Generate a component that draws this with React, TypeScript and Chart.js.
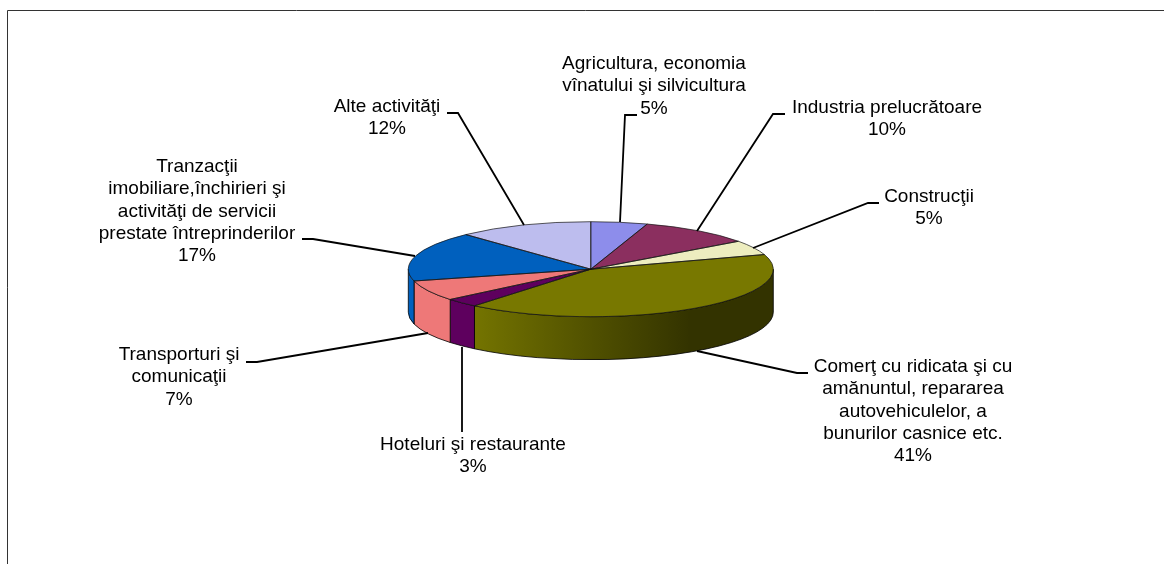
import React, { useEffect, useRef } from "react";
import { Chart, registerables } from "chart.js";

Chart.register(...registerables);

const sectors: string[][] = [
  ["Agricultura, economia", "vînatului şi silvicultura"],
  ["Industria prelucrătoare"],
  ["Construcţii"],
  ["Comerţ cu ridicata şi cu", "amănuntul, repararea", "autovehiculelor, a", "bunurilor casnice etc."],
  ["Hoteluri şi restaurante"],
  ["Transporturi şi", "comunicaţii"],
  ["Tranzacţii", "imobiliare,închirieri şi", "activităţi de servicii", "prestate întreprinderilor"],
  ["Alte activităţi"],
];
const shares = [5, 10, 5, 41, 3, 7, 17, 12];
const topColors = ["#8D8DEB", "#8B2F5F", "#EDEDBF", "#787800", "#5E005E", "#EE7878", "#0060BE", "#BDBDEE"];
const sideColors = ["#6F6FBB", "#6E254B", "#BCBC97", "#787800", "#5E005E", "#EE7878", "#0060BE", "#9696BC"];

// label layout: text centre, first-line centre, leader polyline (separate from the data)
const labelX = [654, 887, 929, 913, 473, 179, 197, 387];
const labelY = [64, 108, 197, 367, 445, 355, 167, 107];
const leaders: number[][][] = [
  [[620, 222], [625, 115], [637, 115]],
  [[697, 231], [773, 114], [785, 114]],
  [[753, 248], [868, 203], [879, 203]],
  [[697, 351], [797, 373], [808, 373]],
  [[462, 347], [462, 432]],
  [[428, 333], [257, 362], [246, 362]],
  [[415, 256], [313, 239], [302, 239]],
  [[524, 225], [458, 113], [447, 113]],
];

const TILT = 47.5 / 182.5;
const DEPTH = 43;
const LINE = 22.2;

const pie3d = {
  id: "pie3d",
  beforeDatasetsDraw(chart: any) {
    const ctx = chart.ctx;
    const arcs = chart.getDatasetMeta(0).data;
    const { x: cx, y: cy, outerRadius: rx } = arcs[0];
    const ry = rx * TILT;
    // extruded rim, front half only
    arcs.forEach((arc: any, i: number) => {
      const a = Math.max(arc.startAngle, 0);
      const b = Math.min(arc.endAngle, Math.PI);
      if (b <= a) return;
      const path = new Path2D();
      path.ellipse(cx, cy, rx, ry, 0, a, b);
      path.ellipse(cx, cy + DEPTH, rx, ry, 0, b, a, true);
      path.closePath();
      let fill: any = sideColors[i];
      if (i === 3) {
        const g = ctx.createLinearGradient(cx + rx * Math.cos(b), 0, cx + rx, 0);
        g.addColorStop(0, "#747400");
        g.addColorStop(0.72, "#333300");
        g.addColorStop(1, "#333300");
        fill = g;
      }
      ctx.save();
      ctx.fillStyle = fill;
      ctx.fill(path);
      ctx.strokeStyle = "rgba(0,0,0,0.8)";
      ctx.lineWidth = 1;
      ctx.stroke(path);
      ctx.restore();
    });
    // flatten the library's own arcs into the tilted ellipse
    ctx.save();
    ctx.translate(cx, cy);
    ctx.scale(1, TILT);
    ctx.translate(-cx, -cy);
  },
  afterDatasetsDraw(chart: any) {
    const ctx = chart.ctx;
    ctx.restore();
    const arcs = chart.getDatasetMeta(0).data;
    const { x: cx, y: cy, outerRadius: rx } = arcs[0];
    const ry = rx * TILT;
    ctx.save();
    arcs.forEach((arc: any) => {
      ctx.beginPath();
      ctx.moveTo(cx, cy);
      ctx.ellipse(cx, cy, rx, ry, 0, arc.startAngle, arc.endAngle);
      ctx.closePath();
      ctx.strokeStyle = "rgba(20,20,20,0.7)";
      ctx.lineWidth = 1;
      ctx.stroke();
    });
    ctx.restore();
  },
  afterDraw(chart: any) {
    const ctx = chart.ctx;
    ctx.save();
    // chart frame
    ctx.strokeStyle = "#333";
    ctx.lineWidth = 1;
    ctx.beginPath();
    ctx.moveTo(7.5, 564);
    ctx.lineTo(7.5, 10.5);
    ctx.lineTo(1164, 10.5);
    ctx.stroke();
    // leaders
    ctx.strokeStyle = "#000";
    ctx.lineWidth = 1.8;
    leaders.forEach((pts) => {
      ctx.beginPath();
      pts.forEach(([x, y], k) => (k ? ctx.lineTo(x, y) : ctx.moveTo(x, y)));
      ctx.stroke();
    });
    // labels
    ctx.fillStyle = "#000";
    ctx.font = '19px "Liberation Sans"';
    ctx.textAlign = "center";
    ctx.textBaseline = "middle";
    sectors.forEach((lines, i) => {
      [...lines, `${shares[i]}%`].forEach((t, k) => {
        ctx.fillText(t, labelX[i], labelY[i] + k * LINE);
      });
    });
    ctx.restore();
  },
};

export default function App() {
  const ref = useRef<HTMLCanvasElement>(null);
  useEffect(() => {
    const chart = new Chart(ref.current!, {
      type: "pie",
      data: {
        labels: sectors.map((s) => s.join(" ")),
        datasets: [
          {
            data: shares,
            backgroundColor: topColors,
            borderWidth: 0,
            clip: false,
          } as any,
        ],
      },
      options: {
        responsive: false,
        animation: false,
        radius: 182.5,
        layout: { padding: { left: 17.6, bottom: 25.6 } },
        plugins: { legend: { display: false }, tooltip: { enabled: false } },
      } as any,
      plugins: [pie3d],
    });
    return () => chart.destroy();
  }, []);
  return (
    <div style={{ position: "absolute", left: 0, top: 0, width: 1164, height: 564, background: "#fff" }}>
      <canvas ref={ref} width={1164} height={564} style={{ display: "block" }} />
    </div>
  );
}
